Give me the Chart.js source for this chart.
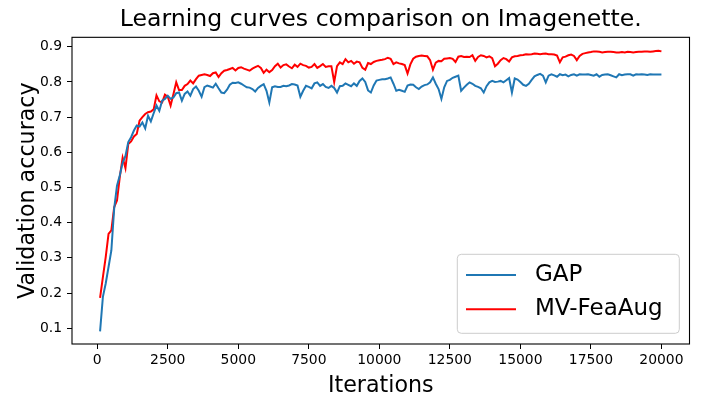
<!DOCTYPE html>
<html>
<head>
<meta charset="utf-8">
<script src="https://cdn.jsdelivr.net/npm/chart.js@4.4.1/dist/chart.umd.min.js"></script>
<style>
html,body{margin:0;padding:0;background:#ffffff;}
#wrap{width:704px;height:408px;position:relative;}
</style>
</head>
<body>
<div id="wrap"><canvas id="c" width="704" height="408"></canvas></div>
<script>
// ---- data ----
const iterations = [
  100,200,300,400,500,600,700,800,900,1000,
  1100,1200,1300,1400,1500,1600,1700,1800,1900,2000,
  2100,2200,2300,2400,2500,2600,2700,2800,2900,3000,
  3100,3200,3300,3400,3500,3600,3700,3800,3900,4000,
  4100,4200,4300,4400,4500,4600,4700,4800,4900,5000,
  5100,5200,5300,5400,5500,5600,5700,5800,5900,6000,
  6100,6200,6300,6400,6500,6600,6700,6800,6900,7000,
  7100,7200,7300,7400,7500,7600,7700,7800,7900,8000,
  8100,8200,8300,8400,8500,8600,8700,8800,8900,9000,
  9100,9200,9300,9400,9500,9600,9700,9800,9900,10000,
  10100,10200,10300,10400,10500,10600,10700,10800,10900,11000,
  11100,11200,11300,11400,11500,11600,11700,11800,11900,12000,
  12100,12200,12300,12400,12500,12600,12700,12800,12900,13000,
  13100,13200,13300,13400,13500,13600,13700,13800,13900,14000,
  14100,14200,14300,14400,14500,14600,14700,14800,14900,15000,
  15100,15200,15300,15400,15500,15600,15700,15800,15900,16000,
  16100,16200,16300,16400,16500,16600,16700,16800,16900,17000,
  17100,17200,17300,17400,17500,17600,17700,17800,17900,18000,
  18100,18200,18300,18400,18500,18600,18700,18800,18900,19000,
  19100,19200,19300,19400,19500,19600,19700,19800,19900,20000
];

const gapAcc = [
  0.091,0.189,0.227,0.274,0.321,0.440,0.505,0.535,0.570,0.590,
  0.629,0.643,0.662,0.676,0.673,0.685,0.668,0.704,0.688,0.711,
  0.733,0.718,0.747,0.752,0.761,0.752,0.756,0.768,0.770,0.747,
  0.766,0.773,0.761,0.780,0.787,0.775,0.758,0.785,0.790,0.787,
  0.784,0.795,0.782,0.770,0.768,0.778,0.792,0.798,0.797,0.799,
  0.795,0.790,0.785,0.784,0.780,0.773,0.783,0.789,0.794,0.775,
  0.742,0.785,0.788,0.786,0.786,0.789,0.788,0.790,0.794,0.793,
  0.790,0.758,0.775,0.789,0.786,0.782,0.796,0.799,0.789,0.794,
  0.786,0.783,0.789,0.783,0.770,0.788,0.789,0.796,0.792,0.788,
  0.796,0.789,0.803,0.810,0.800,0.776,0.770,0.790,0.804,0.806,
  0.808,0.808,0.810,0.813,0.795,0.775,0.778,0.775,0.772,0.790,
  0.793,0.792,0.785,0.780,0.787,0.791,0.793,0.799,0.813,0.795,
  0.780,0.752,0.785,0.803,0.806,0.812,0.815,0.818,0.775,0.784,
  0.792,0.799,0.795,0.789,0.786,0.782,0.770,0.788,0.799,0.803,
  0.800,0.801,0.803,0.799,0.805,0.811,0.770,0.810,0.807,0.800,
  0.792,0.789,0.795,0.806,0.816,0.820,0.823,0.818,0.799,0.818,
  0.822,0.819,0.815,0.822,0.819,0.821,0.816,0.820,0.822,0.818,
  0.822,0.821,0.821,0.822,0.820,0.818,0.822,0.815,0.820,0.821,
  0.822,0.819,0.816,0.813,0.822,0.819,0.821,0.822,0.822,0.818,
  0.822,0.821,0.822,0.821,0.820,0.822,0.821,0.821,0.821,0.821
];

const mvFeaAugAcc = [
  0.186,0.245,0.302,0.368,0.378,0.444,0.463,0.530,0.585,0.555,
  0.624,0.631,0.645,0.652,0.690,0.700,0.709,0.714,0.716,0.722,
  0.762,0.745,0.742,0.764,0.758,0.733,0.765,0.799,0.777,0.777,
  0.789,0.794,0.804,0.796,0.808,0.818,0.820,0.822,0.820,0.817,
  0.825,0.827,0.814,0.825,0.832,0.834,0.837,0.840,0.833,0.840,
  0.842,0.838,0.835,0.832,0.838,0.842,0.846,0.840,0.826,0.835,
  0.828,0.834,0.845,0.852,0.841,0.848,0.850,0.844,0.839,0.849,
  0.843,0.852,0.848,0.846,0.841,0.843,0.851,0.840,0.845,0.851,
  0.843,0.845,0.845,0.800,0.845,0.856,0.851,0.865,0.856,0.860,
  0.852,0.858,0.856,0.840,0.835,0.854,0.851,0.857,0.860,0.862,
  0.863,0.865,0.869,0.866,0.851,0.856,0.853,0.851,0.848,0.824,
  0.850,0.866,0.872,0.874,0.875,0.874,0.873,0.862,0.835,0.855,
  0.860,0.859,0.866,0.867,0.868,0.866,0.857,0.872,0.874,0.871,
  0.872,0.871,0.876,0.860,0.871,0.876,0.874,0.870,0.873,0.868,
  0.845,0.852,0.862,0.868,0.865,0.858,0.870,0.873,0.874,0.876,
  0.877,0.879,0.878,0.879,0.881,0.880,0.879,0.880,0.881,0.879,
  0.879,0.878,0.875,0.856,0.870,0.872,0.876,0.878,0.874,0.862,
  0.874,0.880,0.882,0.884,0.885,0.887,0.887,0.886,0.884,0.885,
  0.886,0.886,0.885,0.884,0.884,0.885,0.884,0.886,0.885,0.884,
  0.885,0.886,0.886,0.887,0.887,0.886,0.887,0.888,0.889,0.887
];

const xTickValues = [0,2500,5000,7500,10000,12500,15000,17500,20000];
const xTickLabels = ['0','2500','5000','7500','10000','12500','15000','17500','20000'];
const yTickValues = [0.1,0.2,0.3,0.4,0.5,0.6,0.7,0.8,0.9];
const yTickLabels = ['0.1','0.2','0.3','0.4','0.5','0.6','0.7','0.8','0.9'];

const seriesNames = ['GAP','MV-FeaAug'];
const seriesColors = ['#1f77b4','#ff0000'];
const titleText = 'Learning curves comparison on Imagenette.';
const xTitleText = 'Iterations';
const yTitleText = 'Validation accuracy';

// ---- chart ----
const FONT = "'DejaVu Sans', 'Liberation Sans', sans-serif";
Chart.defaults.font.family = FONT;
Chart.defaults.color = '#000000';

function toPoints(values) {
  return values.map((v, i) => ({x: iterations[i], y: v}));
}

const framePlugin = {
  id: 'frameAndLegend',
  afterLayout(chart) {
    const tb = chart.titleBlock;
    if (tb) {
      tb.left = chart.chartArea.left;
      tb.right = chart.chartArea.right;
      tb.width = tb.right - tb.left;
    }
  },
  afterDraw(chart) {
    const ctx = chart.ctx;
    const a = chart.chartArea;
    ctx.save();
    // axes frame
    ctx.strokeStyle = '#000000';
    ctx.lineWidth = 1.1;
    ctx.strokeRect(a.left, a.top, a.right - a.left, a.bottom - a.top);

    // legend (matplotlib style, lower right inside axes)
    const fs = 23;
    ctx.font = fs + 'px ' + FONT;
    const boxW = 222, boxH = 79;
    const bx = a.right - 10.2 - boxW;
    const by = a.bottom - 10.7 - boxH;
    const r = 4;
    ctx.beginPath();
    ctx.moveTo(bx + r, by);
    ctx.lineTo(bx + boxW - r, by);
    ctx.arcTo(bx + boxW, by, bx + boxW, by + r, r);
    ctx.lineTo(bx + boxW, by + boxH - r);
    ctx.arcTo(bx + boxW, by + boxH, bx + boxW - r, by + boxH, r);
    ctx.lineTo(bx + r, by + boxH);
    ctx.arcTo(bx, by + boxH, bx, by + boxH - r, r);
    ctx.lineTo(bx, by + r);
    ctx.arcTo(bx, by, bx + r, by, r);
    ctx.closePath();
    ctx.fillStyle = 'rgba(255,255,255,0.8)';
    ctx.fill();
    ctx.strokeStyle = '#cccccc';
    ctx.lineWidth = 1;
    ctx.stroke();

    const rows = [by + 20.7, by + 55];
    chart.data.datasets.forEach((ds, i) => {
      const y = rows[i];
      ctx.strokeStyle = ds.borderColor;
      ctx.lineWidth = 2;
      ctx.beginPath();
      ctx.moveTo(bx + 8.7, y);
      ctx.lineTo(bx + 58.7, y);
      ctx.stroke();
      ctx.fillStyle = '#000000';
      ctx.textAlign = 'left';
      ctx.textBaseline = 'middle';
      ctx.fillText(ds.label, bx + 77.7, y);
    });
    ctx.restore();
  }
};

new Chart(document.getElementById('c'), {
  type: 'line',
  data: {
    datasets: [
      {
        label: seriesNames[0],
        data: toPoints(gapAcc),
        borderColor: seriesColors[0],
        backgroundColor: seriesColors[0],
        borderWidth: 2,
        pointRadius: 0,
        tension: 0,
        fill: false
      },
      {
        label: seriesNames[1],
        data: toPoints(mvFeaAugAcc),
        borderColor: seriesColors[1],
        backgroundColor: seriesColors[1],
        borderWidth: 2,
        pointRadius: 0,
        tension: 0,
        fill: false
      }
    ]
  },
  options: {
    responsive: false,
    animation: false,
    devicePixelRatio: 1,
    layout: {padding: {left: 0, right: 14.5, top: 0, bottom: 0}},
    plugins: {
      legend: {display: false},
      tooltip: {enabled: false},
      title: {
        display: true,
        text: titleText,
        color: '#000000',
        font: {size: 23.6, weight: 'normal', family: FONT},
        padding: {top: 5.3, bottom: 3.7}
      }
    },
    scales: {
      x: {
        type: 'linear',
        min: -895,
        max: 20995,
        afterBuildTicks(scale) { scale.ticks = xTickValues.map(v => ({value: v})); },
        afterFit(scale) { scale.height = 64; },
        ticks: {
          autoSkip: false,
          maxRotation: 0,
          padding: 3,
          color: '#000000',
          font: {size: 13.9, family: FONT},
          callback(value) { const i = xTickValues.indexOf(value); return i >= 0 ? xTickLabels[i] : ''; }
        },
        grid: {display: true, drawOnChartArea: false, drawTicks: true, tickLength: 5, color: '#000000', tickWidth: 1},
        border: {display: false},
        title: {
          display: true,
          text: xTitleText,
          color: '#000000',
          font: {size: 22.2, family: FONT},
          padding: {top: 0, bottom: 8}
        }
      },
      y: {
        type: 'linear',
        min: 0.055,
        max: 0.927,
        afterBuildTicks(scale) { scale.ticks = yTickValues.map(v => ({value: v})); },
        afterFit(scale) { scale.width = 72; },
        ticks: {
          autoSkip: false,
          padding: 5,
          color: '#000000',
          font: {size: 13.9, family: FONT},
          callback(value) { const i = yTickValues.indexOf(value); return i >= 0 ? yTickLabels[i] : ''; }
        },
        grid: {display: true, drawOnChartArea: false, drawTicks: true, tickLength: 5, color: '#000000', tickWidth: 1},
        border: {display: false},
        title: {
          display: true,
          text: yTitleText,
          color: '#000000',
          font: {size: 22.2, family: FONT},
          padding: {top: 15, bottom: 0}
        }
      }
    }
  },
  plugins: [framePlugin]
});
</script>
</body>
</html>
